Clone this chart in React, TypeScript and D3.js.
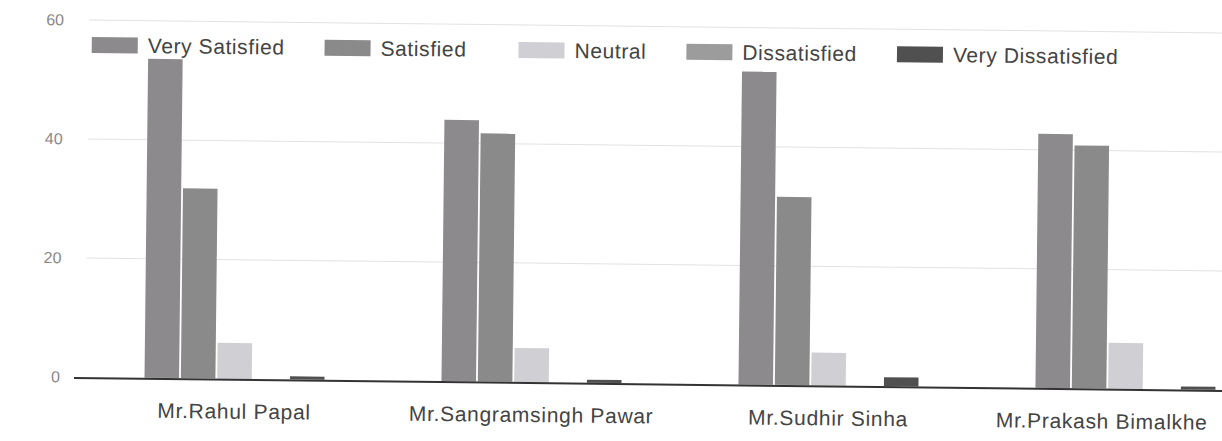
import React, { useEffect, useRef } from "react";
import * as d3 from "d3";

const categories = ["Mr.Rahul Papal", "Mr.Sangramsingh Pawar", "Mr.Sudhir Sinha", "Mr.Prakash Bimalkhe"];
const seriesNames = ["Very Satisfied", "Satisfied", "Neutral", "Dissatisfied", "Very Dissatisfied"];
const verySatisfied = [53.6, 43.9, 52.6, 42.7];
const satisfied = [31.9, 41.7, 31.6, 40.8];
const neutral = [6.0, 5.7, 5.5, 7.7];
const dissatisfied = [0, 0, 0, 0];
const veryDissatisfied = [0.5, 0.5, 1.5, 0.5];
const yTicks = [0, 20, 40, 60];
const seriesColors = ["#8c8a8c", "#8a8a8a", "#cfcfd4", "#9c9c9c", "#505050"];

const W = 1222;
const H = 441;

export default function App() {
  const ref = useRef<SVGSVGElement | null>(null);

  useEffect(() => {
    const svg = d3.select(ref.current);
    svg.selectAll("*").remove();
    const values = [verySatisfied, satisfied, neutral, dissatisfied, veryDissatisfied];

    const y = d3.scaleLinear().domain([0, 60]).range([377, 20]);
    const x0 = d3.scaleBand<string>().domain(categories).range([86, 1274]).paddingInner(0.394).paddingOuter(0.197);
    const x1 = d3.scaleBand<string>().domain(seriesNames).range([0, x0.bandwidth()]).paddingInner(0.05);
    const color = d3.scaleOrdinal<string, string>().domain(seriesNames).range(seriesColors);

    const g = svg.append("g").attr("transform", "rotate(0.65, 85, 377)");

    // gridlines
    g.selectAll("line.grid")
      .data(yTicks.filter((t) => t > 0))
      .join("line")
      .attr("x1", 85)
      .attr("x2", 1300)
      .attr("y1", (d) => y(d))
      .attr("y2", (d) => y(d))
      .attr("stroke", "#e2e2e2")
      .attr("stroke-width", 1);

    // y labels
    g.selectAll("text.ytick")
      .data(yTicks)
      .join("text")
      .attr("x", 60)
      .attr("y", (d) => y(d))
      .attr("dy", "0.35em")
      .attr("text-anchor", "end")
      .attr("font-family", "Liberation Sans, Arial, sans-serif")
      .attr("font-size", 16)
      .attr("fill", "#888")
      .text((d) => String(d));

    // bars
    const groups = g
      .selectAll("g.cat")
      .data(categories)
      .join("g")
      .attr("transform", (d) => `translate(${x0(d)},0)`);

    groups
      .selectAll("rect")
      .data((_c, i) => seriesNames.map((s, k) => ({ s, v: values[k][i] })))
      .join("rect")
      .attr("x", (d) => x1(d.s) as number)
      .attr("width", x1.bandwidth())
      .attr("y", (d) => y(d.v))
      .attr("height", (d) => y(0) - y(d.v))
      .attr("fill", (d) => color(d.s));

    // baseline
    g.append("line")
      .attr("x1", 74)
      .attr("x2", 1300)
      .attr("y1", y(0) + 1)
      .attr("y2", y(0) + 1)
      .attr("stroke", "#333")
      .attr("stroke-width", 2);

    // category labels (kept inside the visible width)
    g.selectAll("text.cat")
      .data(categories)
      .join("text")
      .attr("class", "cat")
      .attr("x", (d) => (x0(d) as number) + x0.bandwidth() / 2)
      .attr("y", 417)
      .attr("text-anchor", "middle")
      .attr("font-family", "Liberation Sans, Arial, sans-serif")
      .attr("font-size", 21)
      .attr("letter-spacing", 0.7)
      .attr("fill", "#444")
      .text((d) => d)
      .each(function (d) {
        const el = this as SVGTextElement;
        const w = el.getComputedTextLength();
        const cx = (x0(d) as number) + x0.bandwidth() / 2;
        const maxRight = 1208;
        if (cx + w / 2 > maxRight) {
          d3.select(el).attr("x", maxRight - w / 2);
        }
      });

    // legend
    const lg = g.append("g");
    let cx = 88;
    seriesNames.forEach((s, i) => {
      lg.append("rect")
        .attr("x", cx)
        .attr("y", 37)
        .attr("width", 46)
        .attr("height", 16)
        .attr("fill", color(s));
      const t = lg
        .append("text")
        .attr("x", cx + 56)
        .attr("y", 45)
        .attr("dy", "0.35em")
        .attr("font-family", "Liberation Sans, Arial, sans-serif")
        .attr("font-size", 21)
        .attr("letter-spacing", 0.6)
        .attr("fill", "#444")
        .text(s);
      const w = (t.node() as SVGTextElement).getComputedTextLength();
      cx = cx + 56 + w + (i === 1 ? 52 : 40);
    });
  }, []);

  return (
    <svg
      ref={ref}
      width={W}
      height={H}
      style={{ position: "absolute", left: 0, top: 0, background: "#fff" }}
    />
  );
}
